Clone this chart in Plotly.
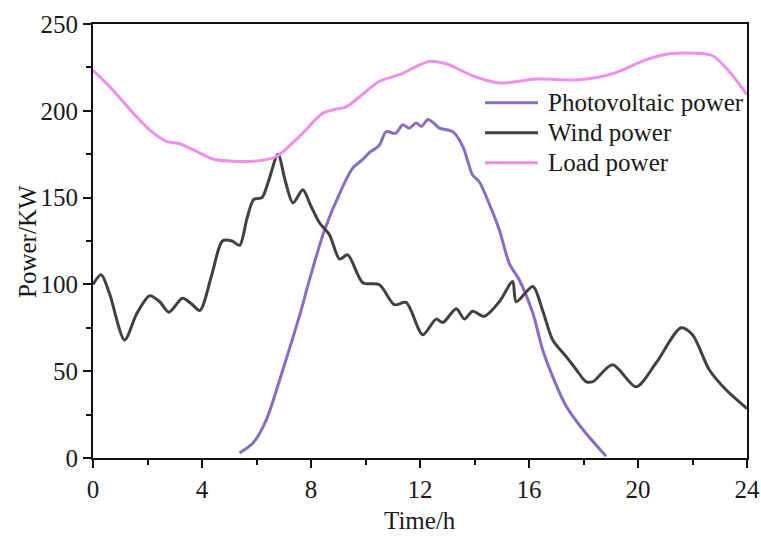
import plotly.graph_objects as go

# ---- data ----
pv_x = [5.38, 5.87, 6.36, 6.97, 7.58, 7.95, 8.5, 9.11, 9.53, 9.9, 10.15, 10.5, 10.76,
        11.1, 11.37, 11.6, 11.86, 12.05, 12.29, 12.5, 12.71, 13.2, 13.57, 13.93, 14.18,
        14.55, 14.91, 15.28, 15.64, 16.14, 16.5, 17.0, 17.36, 18.0, 18.83]
pv_y = [2.9, 8.6, 22, 51, 82, 103, 131.5, 154.5, 167, 172, 176, 180, 188,
        187, 192, 190, 193, 191, 195, 193, 190, 188, 179.5, 163, 159,
        146, 131.5, 112, 102.7, 83.5, 62.4, 42, 30, 16, 1]

wind_x = [0, 0.3, 0.6, 1.16, 1.6, 2.08, 2.45, 2.79, 3.28, 3.6, 3.92, 4.35, 4.75, 5.1,
          5.38, 5.65, 5.9, 6.2, 6.45, 6.79, 7.05, 7.34, 7.7, 8.0, 8.31, 8.68, 9.05,
          9.35, 9.9, 10.51, 11.06, 11.49, 12.1, 12.59, 12.84, 13.33, 13.63, 13.93,
          14.36, 14.91, 15.4, 15.53, 16.14, 16.5, 16.87, 17.36, 17.73, 18.09, 18.34,
          19.07, 19.93, 20.66, 21.58, 22.0, 22.61, 23.23, 24]
wind_y = [100, 105.5, 95, 68, 83, 93.5, 90, 84, 92, 89, 85, 105, 125, 125,
          122.5, 138, 149, 150, 160, 175, 160, 147, 154.5, 145, 135.5, 128.5, 114.6,
          117, 101, 99.8, 88.3, 89.6, 71, 80, 78, 86, 80, 84.5,
          81.6, 90, 101.7, 90, 98.8, 85, 68, 58.5, 51, 44, 44,
          53.7, 41, 54.7, 75, 71, 51, 39.3, 28.5]

load_x = [0, 0.61, 1.47, 2.08, 2.69, 3.18, 3.67, 4.4, 5.13, 6.11, 6.73, 7.58, 8.44,
          8.93, 9.29, 10.51, 11.25, 12.35, 12.96, 13.93, 14.91, 16.26, 17.85, 19.07,
          20.3, 21.15, 22.37, 22.74, 23.35, 24]
load_y = [223.3, 214, 198.7, 189, 182.4, 181, 177.6, 172.2, 170.9, 171.3, 173.7, 185.3,
          198.7, 201, 202.2, 217, 220.8, 228.5, 227.1, 220.2, 216, 218.3, 217.9, 221.4,
          229.4, 232.9, 232.9, 231.7, 222.7, 209.3]

series_names = ["Photovoltaic power", "Wind power", "Load power"]
series_colors = ["#8a6cc4", "#414141", "#ee8fea"]
x_ticks = [0, 4, 8, 12, 16, 20, 24]
y_ticks = [0, 50, 100, 150, 200, 250]

FONT = "Liberation Serif, Times New Roman, serif"
TXT = "#1a1a1a"

fig = go.Figure()
for xs, ys, name, col in zip([pv_x, wind_x, load_x], [pv_y, wind_y, load_y],
                             series_names, series_colors):
    fig.add_trace(go.Scatter(x=xs, y=ys, mode="lines", name=name, showlegend=False,
                             line=dict(color=col, width=3, shape="spline", smoothing=0.8)))

axis_common = dict(
    showline=True, linecolor="#111", linewidth=2, mirror=True,
    ticks="outside", ticklen=8, tickwidth=2, tickcolor="#111",
    showgrid=False, zeroline=False, automargin=False,
    tickfont=dict(family=FONT, size=25, color=TXT),
)

fig.update_xaxes(range=[0, 24], tickvals=x_ticks,
                 minor=dict(dtick=2, ticks="outside", ticklen=5, tickwidth=2, tickcolor="#111"),
                 **axis_common)
fig.update_yaxes(range=[0, 250], tickvals=y_ticks,
                 minor=dict(dtick=25, ticks="outside", ticklen=5, tickwidth=2, tickcolor="#111"),
                 **axis_common)

# axis titles
fig.add_annotation(text="Time/h", xref="paper", yref="paper", x=0.5, y=-0.1435,
                   xanchor="center", yanchor="middle", showarrow=False,
                   font=dict(family=FONT, size=25, color=TXT))
fig.add_annotation(text="Power/KW", xref="paper", yref="paper", x=-0.101, y=0.5,
                   xanchor="center", yanchor="middle", textangle=-90, showarrow=False,
                   font=dict(family=FONT, size=25, color=TXT))

# legend (drawn to match the reference's compact spacing)
leg_rows = [0.8187, 0.7495, 0.6804]
for name, col, yy in zip(series_names, series_colors, leg_rows):
    fig.add_shape(type="line", xref="paper", yref="paper", x0=0.5994, x1=0.6804,
                  y0=yy, y1=yy, line=dict(color=col, width=3))
    fig.add_annotation(text=name, xref="paper", yref="paper", x=0.6930, y=yy,
                       xanchor="left", yanchor="middle", showarrow=False,
                       font=dict(family=FONT, size=25, color=TXT))

fig.update_layout(
    width=761, height=536,
    margin=dict(l=93, r=14, t=24, b=78),
    paper_bgcolor="white", plot_bgcolor="white",
    showlegend=False,
)

fig.write_html("out.html")
